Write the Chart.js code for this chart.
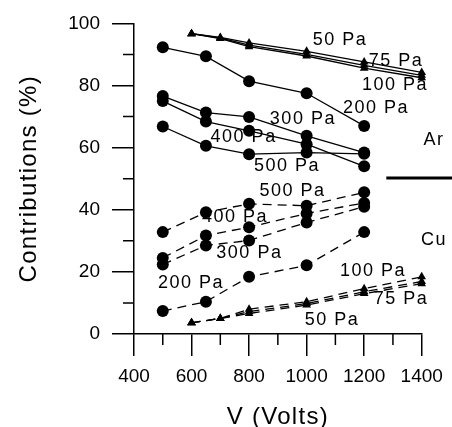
<!DOCTYPE html>
<html>
<head>
<meta charset="utf-8">
<script src="https://cdn.jsdelivr.net/npm/chart.js@4/dist/chart.umd.min.js"></script>
<style>
html,body{margin:0;padding:0;background:#fff;}
canvas{display:block;}
</style>
</head>
<body>
<canvas id="c" width="452" height="427"></canvas>
<script>
// ---- data ----
const voltsTri = [600, 700, 800, 1000, 1200, 1400];
const voltsCirc = [500, 650, 800, 1000, 1200];

const ar50 = [96.7, 95.5, 93.7, 91.0, 87.6, 84.2];
const ar75 = [96.7, 95.3, 93.0, 90.0, 86.5, 83.3];
const ar100 = [96.7, 95.1, 92.5, 89.5, 85.6, 82.5];
const ar200 = [92.3, 89.4, 81.4, 77.5, 67.0];
const ar300 = [76.6, 71.3, 69.9, 63.8, 58.4];
const ar400 = [75.0, 68.4, 65.4, 61.1, 54.0];
const ar500 = [66.8, 60.6, 57.9, 58.4, 58.0];

const cu500 = [32.8, 39.2, 41.9, 41.3, 45.6];
const cu400 = [24.5, 31.7, 34.4, 38.8, 42.2];
const cu300 = [22.4, 28.5, 30.1, 35.9, 41.0];
const cu200 = [7.4, 10.4, 18.4, 22.1, 32.8];
const cu100 = [3.6, 5.0, 8.0, 10.4, 14.6, 18.4];
const cu75 = [3.6, 5.0, 7.2, 9.8, 13.6, 16.9];
const cu50 = [3.6, 5.0, 6.6, 9.3, 13.0, 16.2];

const xTicks = [400, 600, 800, 1000, 1200, 1400];
const xMinorTicks = [500, 700, 900, 1100, 1300];
const yTicks = [0, 20, 40, 60, 80, 100];
const yMinorTicks = [10, 30, 50, 70, 90];

const xTitle = 'V (Volts)';
const yTitle = 'Contributions (%)';

// curve labels (text, volts, percent)
const labelTexts = ['50 Pa', '75 Pa', '100 Pa', '200 Pa', '300 Pa', '400 Pa', '500 Pa',
                    '500 Pa', '400 Pa', '300 Pa', '200 Pa', '100 Pa', '75 Pa', '50 Pa', 'Ar', 'Cu'];
const labelVolts = [1116, 1311, 1307, 1241, 987, 781, 932, 951, 751, 801, 598, 1231, 1328, 1088, 1443, 1443];
const labelPct = [94.7, 87.8, 80.0, 72.6, 69.2, 63.5, 54.2, 46.0, 37.7, 26.0, 16.5, 20.2, 11.2, 4.5, 62.5, 30.4];
const dividerVolts = 1277;
const dividerPct = 50.2;

// ---- build ----
const FONT = "'Liberation Sans', Arial, Helvetica, sans-serif";
function pts(xs, ys) { return xs.map((x, i) => ({x: x, y: ys[i]})); }
function ds(xs, ys, style, dashed) {
  return {
    data: pts(xs, ys),
    borderColor: '#000',
    backgroundColor: '#000',
    borderWidth: 1.3,
    borderDash: dashed ? [9, 6] : [],
    pointStyle: style,
    pointRadius: style === 'circle' ? 6 : 5,
    pointBorderWidth: 0,
    showLine: true,
    tension: 0,
    clip: false
  };
}

const datasets = [
  ds(voltsTri, ar50, 'triangle', false),
  ds(voltsTri, ar75, 'triangle', false),
  ds(voltsTri, ar100, 'triangle', false),
  ds(voltsCirc, ar200, 'circle', false),
  ds(voltsCirc, ar300, 'circle', false),
  ds(voltsCirc, ar400, 'circle', false),
  ds(voltsCirc, ar500, 'circle', false),
  ds(voltsCirc, cu500, 'circle', true),
  ds(voltsCirc, cu400, 'circle', true),
  ds(voltsCirc, cu300, 'circle', true),
  ds(voltsCirc, cu200, 'circle', true),
  ds(voltsTri, cu100, 'triangle', true),
  ds(voltsTri, cu75, 'triangle', true),
  ds(voltsTri, cu50, 'triangle', true)
];

const extras = {
  id: 'extras',
  afterLayout(chart) {
    ['x', 'y'].forEach(id => {
      const s = chart.scales[id];
      if (!s._spacedTitle) {
        const orig = s.drawTitle;
        s.drawTitle = function () {
          const c = this.ctx;
          const prev = c.letterSpacing;
          c.letterSpacing = '1.3px';
          orig.apply(this, arguments);
          c.letterSpacing = prev || '0px';
        };
        s._spacedTitle = true;
      }
    });
  },
  afterDatasetsDraw(chart) {
    const ctx = chart.ctx;
    const xs = chart.scales.x, ys = chart.scales.y;
    ctx.save();
    ctx.strokeStyle = '#000';
    ctx.lineWidth = 1.5;
    // minor ticks
    ctx.beginPath();
    xMinorTicks.forEach(v => {
      const px = xs.getPixelForValue(v);
      ctx.moveTo(px, ys.bottom);
      ctx.lineTo(px, ys.bottom + 11);
    });
    yMinorTicks.forEach(v => {
      const py = ys.getPixelForValue(v);
      ctx.moveTo(xs.left, py);
      ctx.lineTo(xs.left - 11, py);
    });
    ctx.stroke();
    // divider between Ar and Cu
    ctx.lineWidth = 3;
    ctx.beginPath();
    const dy = ys.getPixelForValue(dividerPct);
    ctx.moveTo(xs.getPixelForValue(dividerVolts), dy);
    ctx.lineTo(chart.width, dy);
    ctx.stroke();
    // labels
    ctx.fillStyle = '#000';
    ctx.font = '18px ' + FONT;
    ctx.letterSpacing = '1.5px';
    ctx.textAlign = 'center';
    ctx.textBaseline = 'middle';
    labelTexts.forEach((t, i) => {
      ctx.fillText(t, xs.getPixelForValue(labelVolts[i]), ys.getPixelForValue(labelPct[i]));
    });
    ctx.restore();
  }
};

new Chart(document.getElementById('c'), {
  type: 'scatter',
  data: { datasets: datasets },
  options: {
    responsive: false,
    animation: false,
    events: [],
    layout: { padding: { top: 22, right: 30.3, left: 0, bottom: 0 } },
    plugins: { legend: { display: false }, tooltip: { enabled: false } },
    scales: {
      x: {
        type: 'linear',
        min: 400, max: 1400,
        afterBuildTicks: s => { s.ticks = xTicks.map(v => ({value: v})); },
        afterFit: s => { s.height = 93; },
        ticks: { color: '#000', padding: 9, font: { family: FONT, size: 19 }, maxRotation: 0, autoSkip: false, callback: v => String(v) },
        grid: { drawOnChartArea: false, drawTicks: true, tickLength: 22, color: '#000', lineWidth: 1.5 },
        border: { display: true, color: '#000', width: 1.5 },
        title: { display: true, text: xTitle, color: '#000', font: { family: FONT, size: 24, lineHeight: 0.8 }, padding: { top: 0, bottom: 0 } }
      },
      y: {
        type: 'linear',
        min: 0, max: 100,
        afterBuildTicks: s => { s.ticks = yTicks.map(v => ({value: v})); },
        afterFit: s => { s.width = 134; },
        ticks: { color: '#000', padding: 12, font: { family: FONT, size: 19 }, autoSkip: false, callback: v => String(v) },
        grid: { drawOnChartArea: false, drawTicks: true, tickLength: 22, color: '#000', lineWidth: 1.5 },
        border: { display: true, color: '#000', width: 1.5 },
        title: { display: true, text: yTitle, color: '#000', font: { family: FONT, size: 24, lineHeight: 0.8 }, padding: { top: 19.6, bottom: 0 } }
      }
    }
  },
  plugins: [extras]
});
</script>
</body>
</html>
